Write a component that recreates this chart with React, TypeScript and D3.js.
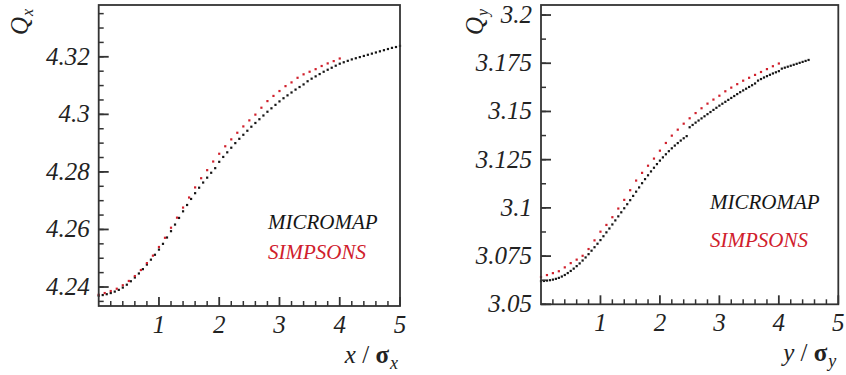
import React from 'react';
import * as d3 from 'd3';

// ---------- data ----------
const xTicks = [1, 2, 3, 4, 5];
const xTickLabels = ['1', '2', '3', '4', '5'];

const leftYTicks = [4.24, 4.26, 4.28, 4.3, 4.32];
const leftYTickLabels = ['4.24', '4.26', '4.28', '4.3', '4.32'];
const rightYTicks = [3.05, 3.075, 3.1, 3.125, 3.15, 3.175, 3.2];
const rightYTickLabels = ['3.05', '3.075', '3.1', '3.125', '3.15', '3.175', '3.2'];

const seriesNames = ['MICROMAP', 'SIMPSONS'];

// Q_x vs x/sigma_x, MICROMAP (x step 1/15 from 0)
const leftMicromapStep = 1 / 15;
const leftMicromap = [
  4.2370, 4.2372, 4.2375, 4.2379, 4.2384, 4.2390, 4.2398, 4.2408, 4.2420, 4.2433,
  4.2447, 4.2462, 4.2478, 4.2495, 4.2512, 4.2530, 4.2550, 4.2572, 4.2594, 4.2617,
  4.2640, 4.2663, 4.2685, 4.2706, 4.2726, 4.2745, 4.2763, 4.2780, 4.2797, 4.2813,
  4.2835, 4.2852, 4.2868, 4.2884, 4.2900, 4.2915, 4.2929, 4.2943, 4.2957, 4.2970,
  4.2983, 4.2996, 4.3009, 4.3021, 4.3033, 4.3045, 4.3056, 4.3066, 4.3076, 4.3086,
  4.3095, 4.3104, 4.3115, 4.3124, 4.3132, 4.3140, 4.3148, 4.3155, 4.3162, 4.3169,
  4.3176, 4.3181, 4.3186, 4.3191, 4.3195, 4.3199, 4.3203, 4.3207, 4.3211, 4.3215,
  4.3219, 4.3223, 4.3227, 4.3231, 4.3234, 4.3238,
];
// Q_x, SIMPSONS (x step 0.1 from 0)
const leftSimpsonsStep = 0.1;
const leftSimpsons = [
  4.2372, 4.2378, 4.2385, 4.2393, 4.2405, 4.2420, 4.2437, 4.2458, 4.2482, 4.2508,
  4.2538, 4.2570, 4.2605, 4.2640, 4.2675, 4.2710, 4.2745, 4.2777, 4.2805, 4.2835,
  4.2862, 4.2888, 4.2912, 4.2935, 4.2957, 4.2978, 4.2998, 4.3022, 4.3045, 4.3063,
  4.3080, 4.3097, 4.3110, 4.3126, 4.3138, 4.3147, 4.3156, 4.3167, 4.3176, 4.3184,
  4.3193,
];

// Q_y vs y/sigma_y, MICROMAP (x step 0.05 from 0)
const rightMicromapStep = 0.05;
const rightMicromap = [
  3.0620, 3.0621, 3.0623, 3.0625, 3.0628, 3.0632, 3.0637, 3.0644, 3.0652, 3.0662,
  3.0673, 3.0685, 3.0698, 3.0712, 3.0727, 3.0743, 3.0760, 3.0778, 3.0796, 3.0814,
  3.0833, 3.0853, 3.0873, 3.0893, 3.0914, 3.0935, 3.0956, 3.0977, 3.0998, 3.1019,
  3.1040, 3.1062, 3.1084, 3.1106, 3.1128, 3.1149, 3.1169, 3.1189, 3.1208, 3.1227,
  3.1245, 3.1262, 3.1278, 3.1294, 3.1309, 3.1323, 3.1336, 3.1349, 3.1361, 3.1372,
  3.1418, 3.1430, 3.1442, 3.1453, 3.1464, 3.1475, 3.1486, 3.1497, 3.1508, 3.1519,
  3.1530, 3.1540, 3.1550, 3.1560, 3.1570, 3.1580, 3.1590, 3.1600, 3.1609, 3.1618,
  3.1627, 3.1636, 3.1645, 3.1660, 3.1668, 3.1676, 3.1683, 3.1690, 3.1697, 3.1703,
  3.1709, 3.1722, 3.1727, 3.1732, 3.1737, 3.1742, 3.1747, 3.1752, 3.1757, 3.1762,
  3.1767,
];
// Q_y, SIMPSONS (x step 0.1 from 0)
const rightSimpsonsStep = 0.1;
const rightSimpsons = [
  3.0640, 3.0650, 3.0660, 3.0670, 3.0690, 3.0712, 3.0730, 3.0750, 3.0785, 3.0830,
  3.0875, 3.0910, 3.0950, 3.0995, 3.1040, 3.1090, 3.1140, 3.1180, 3.1217, 3.1254,
  3.1295, 3.1335, 3.1373, 3.1404, 3.1435, 3.1463, 3.1490, 3.1515, 3.1539, 3.1560,
  3.1580, 3.1603, 3.1622, 3.1640, 3.1658, 3.1673, 3.1688, 3.1703, 3.1718, 3.1733,
  3.1747,
];

const BLACK = '#151515';
const RED = '#d0202c';
const SERIF = 'Liberation Serif';

type PanelCfg = {
  x0: number; x1: number; y0: number; y1: number;
  yDomain: [number, number];
  yTicks: number[]; yTickLabels: string[]; yMinorStep: number; yMinorStart: number;
  micromap: number[]; micromapStep: number;
  simpsons: number[]; simpsonsStep: number;
  axisVar: string; legendX: number; legendY1: number; legendY2: number;
  qTitleX: number;
};

function panelMarks(p: PanelCfg, id: string) {
  const x = d3.scaleLinear().domain([0, 5]).range([p.x0, p.x1]);
  const y = d3.scaleLinear().domain(p.yDomain).range([p.y1, p.y0]);
  const xMinor = d3.range(0, 5.0001, 0.2).filter((v) => Math.abs(v - Math.round(v)) > 1e-6);
  const yMinor: number[] = [];
  for (let v = p.yMinorStart; v <= p.yDomain[1] + 1e-9; v += p.yMinorStep) yMinor.push(v);
  const ms = 2.2;
  const out: React.ReactNode[] = [];
  p.micromap.forEach((v, i) =>
    out.push(<rect key={id + 'm' + i} x={x(i * p.micromapStep) - ms / 2} y={y(v) - ms / 2} width={ms} height={ms} fill={BLACK} />)
  );
  p.simpsons.forEach((v, i) =>
    out.push(<rect key={id + 's' + i} x={x(i * p.simpsonsStep) - ms / 2} y={y(v) - ms / 2 - 0.3} width={ms} height={ms} fill={RED} />)
  );
  out.push(<rect key={id + 'frame'} x={p.x0} y={p.y0} width={p.x1 - p.x0} height={p.y1 - p.y0} fill="none" stroke="#333" strokeWidth={1.8} />);
  yMinor.forEach((v, i) =>
    out.push(<line key={id + 'ym' + i} x1={p.x0} x2={p.x0 + 5} y1={y(v)} y2={y(v)} stroke="#333" strokeWidth={1.5} />)
  );
  p.yTicks.forEach((v, i) =>
    out.push(<line key={id + 'yM' + i} x1={p.x0} x2={p.x0 + 10} y1={y(v)} y2={y(v)} stroke="#333" strokeWidth={1.8} />)
  );
  xMinor.forEach((v, i) =>
    out.push(<line key={id + 'xm' + i} x1={x(v)} x2={x(v)} y1={p.y1} y2={p.y1 - 5} stroke="#333" strokeWidth={1.5} />)
  );
  xTicks.forEach((v, i) =>
    out.push(<line key={id + 'xM' + i} x1={x(v)} x2={x(v)} y1={p.y1} y2={p.y1 - 9} stroke="#333" strokeWidth={1.8} />)
  );
  return out;
}

function titleTexts(p: PanelCfg, id: string) {
  return [
    <text key={id + 'xt'} x={p.x1 - 11} y={p.y1 + 57} textAnchor="end" fontFamily={SERIF} fontSize={25} fill="#222">
      <tspan fontStyle="italic">{p.axisVar}</tspan>
      <tspan>{' / '}</tspan>
      <tspan fontWeight="bold">σ</tspan>
    </text>,
    <text key={id + 'xts'} x={p.x1 - 10} y={p.y1 + 63} fontFamily={SERIF} fontStyle="italic" fontSize={18} fill="#222">
      {p.axisVar}
    </text>,
  ];
}

function panelTexts(p: PanelCfg, id: string) {
  const x = d3.scaleLinear().domain([0, 5]).range([p.x0, p.x1]);
  const y = d3.scaleLinear().domain(p.yDomain).range([p.y1, p.y0]);
  const out: React.ReactNode[] = [];
  p.yTicks.forEach((v, i) =>
    out.push(
      <text key={id + 'yl' + i} x={p.x0 - 9} y={y(v) + 8} textAnchor="end" fontFamily={SERIF} fontStyle="italic" fontSize={25} fill="#222">
        {p.yTickLabels[i]}
      </text>
    )
  );
  xTicks.forEach((v, i) =>
    out.push(
      <text key={id + 'xl' + i} x={x(v)} y={p.y1 + 27} textAnchor="middle" fontFamily={SERIF} fontStyle="italic" fontSize={25} fill="#222">
        {xTickLabels[i]}
      </text>
    )
  );
  out.push(
    <text key={id + 'yt'} transform={`translate(${p.qTitleX},${p.y0 + 12}) rotate(-90)`} textAnchor="end" fontFamily={SERIF} fontStyle="italic" fontSize={25} fill="#222">
      Q
    </text>
  );
  out.push(
    <text key={id + 'yts'} transform={`translate(${p.qTitleX + 5},${p.y0 + 11}) rotate(-90)`} textAnchor="start" fontFamily={SERIF} fontStyle="italic" fontSize={16} fill="#222">
      {p.axisVar}
    </text>
  );
  out.push(
    <text key={id + 'l1'} x={p.legendX} y={p.legendY1} fontFamily={SERIF} fontStyle="italic" fontSize={21} fill={BLACK}>
      {seriesNames[0]}
    </text>
  );
  out.push(
    <text key={id + 'l2'} x={p.legendX} y={p.legendY2} fontFamily={SERIF} fontStyle="italic" fontSize={21} fill={RED}>
      {seriesNames[1]}
    </text>
  );
  return out;
}

const leftCfg: PanelCfg = {
  x0: 98.7, x1: 400, y0: 5, y1: 306,
  yDomain: [4.2334, 4.338],
  yTicks: leftYTicks, yTickLabels: leftYTickLabels, yMinorStep: 0.005, yMinorStart: 4.235,
  micromap: leftMicromap, micromapStep: leftMicromapStep,
  simpsons: leftSimpsons, simpsonsStep: leftSimpsonsStep,
  axisVar: 'x', legendX: 268, legendY1: 229, legendY2: 259, qTitleX: 28,
};
const rightCfg: PanelCfg = {
  x0: 541, x1: 838.3, y0: 5, y1: 304.3,
  yDomain: [3.05, 3.2052],
  yTicks: rightYTicks, yTickLabels: rightYTickLabels, yMinorStep: 0.0125, yMinorStart: 3.05,
  micromap: rightMicromap, micromapStep: rightMicromapStep,
  simpsons: rightSimpsons, simpsonsStep: rightSimpsonsStep,
  axisVar: 'y', legendX: 710, legendY1: 209, legendY2: 247, qTitleX: 483,
};

export default function App() {
  return (
    <svg width={846} height={375} style={{ position: 'absolute', left: 0, top: 0, background: '#fff' }}>
      <rect width={846} height={375} fill="#fff" />
      {titleTexts(leftCfg, 'L')}
      {titleTexts(rightCfg, 'R')}
      {panelTexts(leftCfg, 'L')}
      {panelTexts(rightCfg, 'R')}
      {panelMarks(leftCfg, 'L')}
      {panelMarks(rightCfg, 'R')}
    </svg>
  );
}
